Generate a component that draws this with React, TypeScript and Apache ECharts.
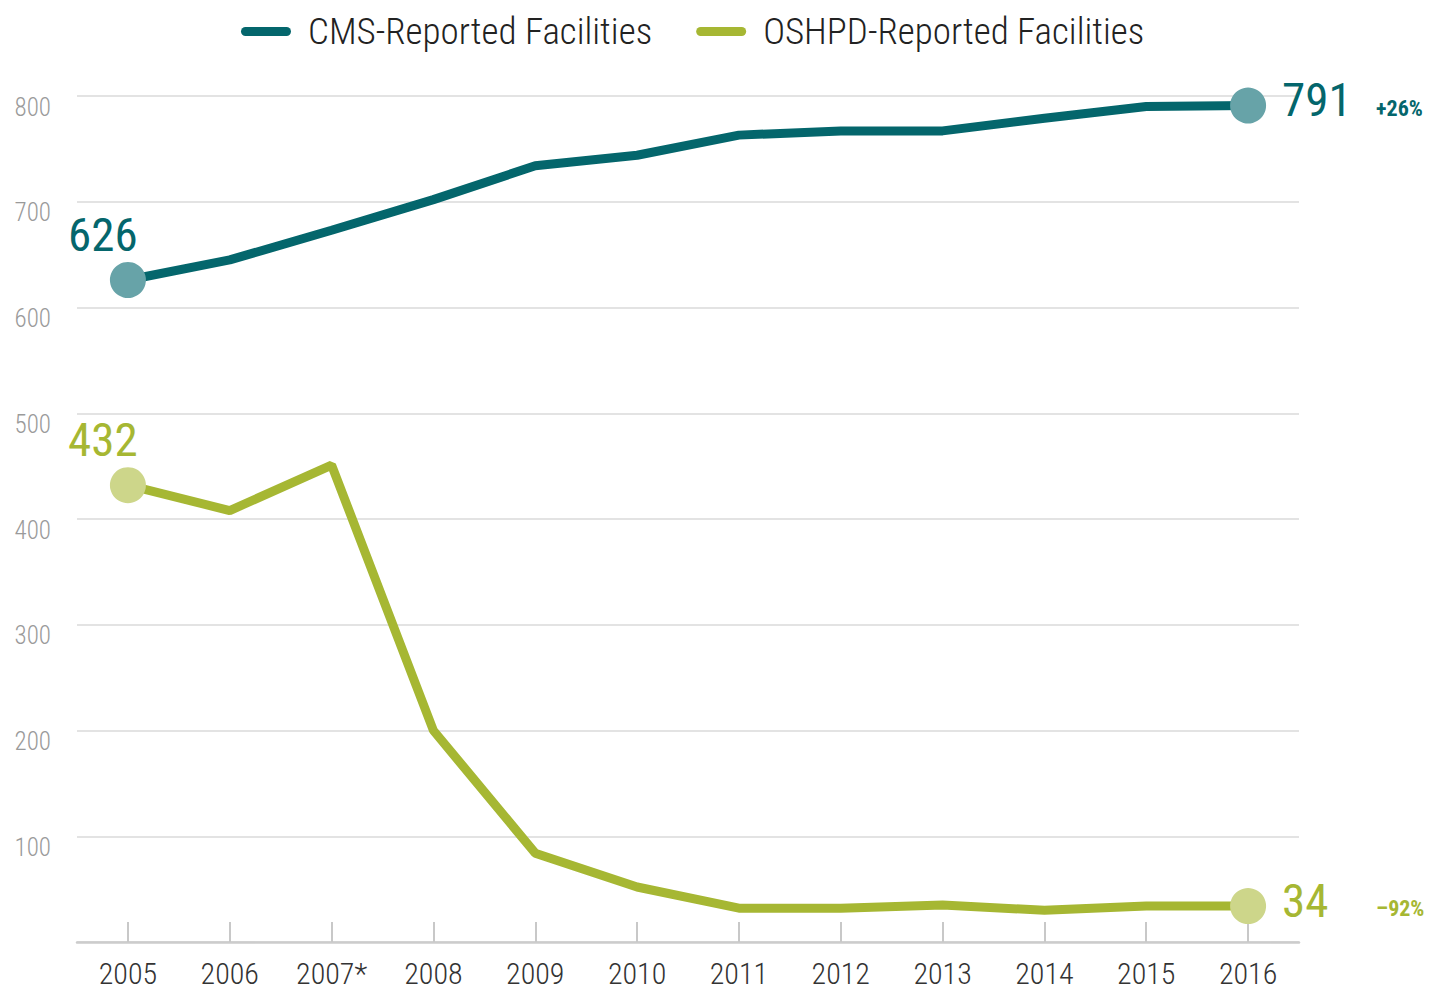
import React, { useEffect, useRef } from "react";
import * as echarts from "echarts";

const categories = ["2005", "2006", "2007*", "2008", "2009", "2010", "2011", "2012", "2013", "2014", "2015", "2016"];
const cmsValues = [626, 645, 673, 702, 734, 744, 763, 767, 767, 779, 790, 791];
const oshpdValues = [432, 408, 451, 200, 84, 52, 32, 32, 35, 30, 34, 34];
const yTicks = [0, 100, 200, 300, 400, 500, 600, 700, 800];
const cmsChange = "+26%";
const oshpdChange = "–92%";

const NARROW = "'Roboto Condensed','Noto Sans Condensed','DejaVu Sans Condensed',sans-serif";
const TEAL = "#04666C";
const TEAL_LIGHT = "#67A3A8";
const OLIVE = "#A6B733";
const OLIVE_LIGHT = "#CDD68A";

function buildData(values: number[], light: string, color: string, change: string, firstOffset: number[]) {
  const last = values.length - 1;
  return values.map((v, i) => {
    if (i === 0) {
      return {
        value: v,
        symbol: "circle",
        symbolSize: 36,
        itemStyle: { color: light },
        label: {
          show: true,
          position: "top",
          distance: 4,
          offset: firstOffset,
          formatter: String(v),
          color,
          fontFamily: NARROW,
          fontSize: 47,
        },
      };
    }
    if (i === last) {
      return {
        value: v,
        symbol: "circle",
        symbolSize: 36,
        itemStyle: { color: light },
        label: {
          show: true,
          position: "right",
          distance: 16,
          offset: [0, -6],
          formatter: `{a|${v}}{b|${change}}`,
          rich: {
            a: { color, fontFamily: NARROW, fontSize: 47, verticalAlign: "bottom", lineHeight: 47, width: 66, align: "left" },
            b: {
              color,
              fontFamily: NARROW,
              fontSize: 22,
              fontWeight: "bold",
              verticalAlign: "bottom",
              padding: [0, 0, 4, 28],
              lineHeight: 47,
            },
          },
        },
      };
    }
    return { value: v, symbol: "none" };
  });
}

export default function App() {
  const ref = useRef<HTMLDivElement>(null);
  useEffect(() => {
    if (!ref.current) return;
    const chart = echarts.init(ref.current, undefined, { renderer: "svg" });
    chart.setOption({
      animation: false,
      backgroundColor: "#ffffff",
      legend: {
        top: 8,
        left: 236,
        itemWidth: 50,
        itemHeight: 9,
        itemGap: 44,
        icon: "path://M4.5,0 H45.5 A4.5,4.5 0 0 1 45.5,9 H4.5 A4.5,4.5 0 0 1 4.5,0 Z",
        textStyle: { fontFamily: NARROW, fontSize: 37, fontWeight: 300, color: "#222", padding: [0, 0, 0, 12] },
        data: ["CMS-Reported Facilities", "OSHPD-Reported Facilities"],
      },
      grid: { left: 77, right: 136, top: 96, bottom: 47, containLabel: false },
      xAxis: {
        type: "category",
        data: categories,
        boundaryGap: true,
        axisLine: { lineStyle: { color: "#cccccc", width: 2.5 } },
        axisTick: {
          show: true,
          interval: 0,
          alignWithLabel: true,
          inside: true,
          length: 20,
          lineStyle: { color: "#c8c8c8", width: 2 },
        },
        axisLabel: { interval: 0, fontFamily: NARROW, fontSize: 30, fontWeight: 300, color: "#333", margin: 16 },
      },
      yAxis: {
        type: "value",
        min: yTicks[0],
        max: yTicks[yTicks.length - 1],
        interval: 100,
        axisLine: { show: false },
        axisTick: { show: false },
        splitLine: { lineStyle: { color: "#dadada", width: 1.5 } },
        axisLabel: {
          fontFamily: NARROW,
          fontSize: 25,
          fontWeight: 300,
          color: "#9a9a9a",
          margin: 26,
          verticalAlign: "top",
          lineHeight: 22,
          formatter: (v: number) => (v === 0 ? "" : String(v)),
        },
      },
      series: [
        {
          name: "CMS-Reported Facilities",
          type: "line",
          data: buildData(cmsValues, TEAL_LIGHT, TEAL, cmsChange, [-25, 0]),
          lineStyle: { color: TEAL, width: 9 },
          itemStyle: { color: TEAL },
          showSymbol: true,
          z: 3,
        },
        {
          name: "OSHPD-Reported Facilities",
          type: "line",
          data: buildData(oshpdValues, OLIVE_LIGHT, OLIVE, oshpdChange, [-25, 0]),
          lineStyle: { color: OLIVE, width: 9 },
          itemStyle: { color: OLIVE },
          showSymbol: true,
          z: 2,
        },
      ],
    });
    return () => chart.dispose();
  }, []);
  return (
    <div
      ref={ref}
      style={{ position: "fixed", left: 0, top: 0, width: 1435, height: 989, overflow: "hidden" }}
    />
  );
}
